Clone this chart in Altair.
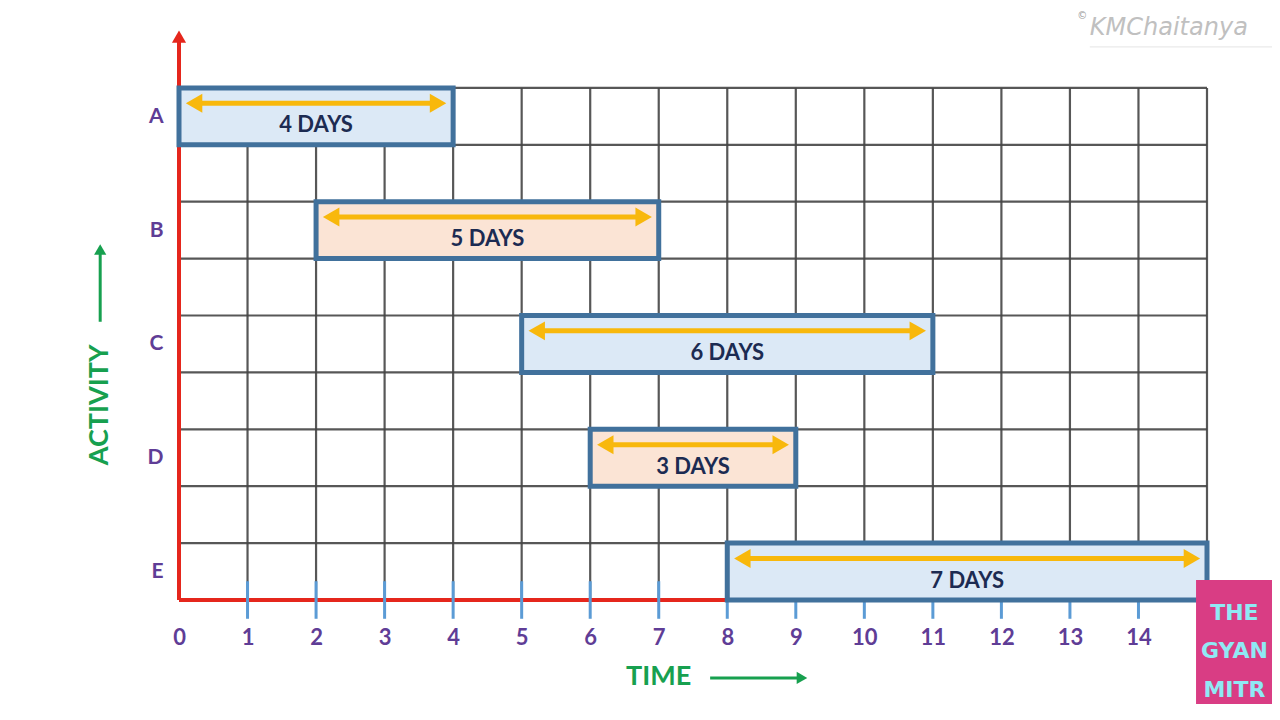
import altair as alt
import pandas as pd

# ---------------- data ----------------
activities = ["A", "B", "C", "D", "E"]
start_day = [0, 2, 5, 6, 8]
duration_days = [4, 5, 6, 3, 7]
box_fill = ["#dce9f6", "#fbe4d5", "#dce9f6", "#fbe4d5", "#dce9f6"]
band_bottom = [8, 6, 4, 2, 0]          # grid band that each activity occupies
day_labels = list(range(0, 15))        # 0 .. 14 printed under the axis
grid_days = list(range(1, 16))         # vertical grid lines
grid_levels = list(range(1, 10))       # horizontal grid lines
tick_days = list(range(1, 16))         # blue tick marks on the time axis

X_MAX = 15
Y_GRID_TOP = 9
Y_MAX = 10

PURPLE = "#5f3d96"
NAVY = "#1c2b52"
ORANGE = "#f8b80c"
RED = "#e5261c"
GREEN = "#17a04f"
BOX_STROKE = "#41719c"
GRID = "#454545"
FONT = "Lato"

tasks = pd.DataFrame({
    "activity": activities,
    "start": start_day,
    "dur": duration_days,
    "fill": box_fill,
    "row": band_bottom,
})
tasks["end"] = tasks["start"] + tasks["dur"]
tasks["top"] = tasks["row"] + 1
tasks["center"] = (tasks["start"] + tasks["end"]) / 2
tasks["label"] = tasks["dur"].astype(str) + " DAYS"
tasks["arrow_y"] = tasks["row"] + 0.73
tasks["text_y"] = tasks["row"] + 0.34
tasks["head_l"] = tasks["start"] + 0.22
tasks["head_r"] = tasks["end"] - 0.22

xs = alt.Scale(domain=[0, X_MAX], nice=False, zero=False)
ys = alt.Scale(domain=[0, Y_MAX], nice=False, zero=False)

label_expr = " : ".join(
    f"datum.value == {r + 0.5} ? '{a}'" for a, r in zip(activities, band_bottom)
) + " : ''"

x_axis = alt.Axis(values=day_labels, labelColor=PURPLE, labelFont=FONT, labelFontSize=22,
                  labelFontWeight="bold", labelPadding=27, ticks=False, tickSize=0,
                  domain=False, grid=False, title=None, labelFlush=False, labelOverlap=False)
y_axis = alt.Axis(values=[r + 0.5 for r in band_bottom], labelExpr=label_expr,
                  labelColor=PURPLE, labelFont=FONT, labelFontSize=21, labelFontWeight="bold",
                  labelPadding=16, ticks=False, tickSize=0, domain=False, grid=False,
                  title=None, labelFlush=False, labelOverlap=False)


def X(*a, **k):
    return alt.X(*a, scale=xs, axis=x_axis, **k)


def Y(*a, **k):
    return alt.Y(*a, scale=ys, axis=y_axis, **k)


one = alt.Data(values=[{"k": 0}])

# grid
vgrid = alt.Chart(pd.DataFrame({"x": grid_days})).mark_rule(color=GRID, strokeWidth=2.2, opacity=0.9).encode(
    x=X("x:Q"), y=Y(datum=0), y2=alt.Y2(datum=Y_GRID_TOP))
hgrid = alt.Chart(pd.DataFrame({"y": grid_levels})).mark_rule(color=GRID, strokeWidth=2.2, opacity=0.9).encode(
    y=Y("y:Q"), x=X(datum=0), x2=alt.X2(datum=X_MAX))

# red axis lines + arrow
x_line = alt.Chart(one).mark_rule(color=RED, strokeWidth=4).encode(
    x=X(datum=0), x2=alt.X2(datum=X_MAX), y=Y(datum=0))
y_line = alt.Chart(one).mark_rule(color=RED, strokeWidth=4).encode(
    x=X(datum=0), y=Y(datum=0), y2=alt.Y2(datum=9.85))
y_head = alt.Chart(one).mark_point(shape="triangle-up", filled=True, color=RED, size=200, opacity=1).encode(
    x=X(datum=0), y=Y(datum=9.9))

# blue ticks crossing the time axis
ticks = alt.Chart(pd.DataFrame({"x": tick_days})).mark_rule(color="#5b9bd5", strokeWidth=3).encode(
    x=X("x:Q"), y=Y(datum=-0.33), y2=alt.Y2(datum=0.33))

# activity boxes
boxes = alt.Chart(tasks).mark_rect(stroke=BOX_STROKE, strokeWidth=5).encode(
    x=X("start:Q"), x2="end:Q", y=Y("row:Q"), y2="top:Q",
    fill=alt.Fill("fill:N", scale=None))

arrow_line = alt.Chart(tasks).mark_rule(color=ORANGE, strokeWidth=5).encode(
    x=X("head_l:Q"), x2="head_r:Q", y=Y("arrow_y:Q"))
head_left = alt.Chart(tasks).mark_point(shape="triangle-left", filled=True, color=ORANGE, size=360, opacity=1).encode(
    x=X("head_l:Q"), y=Y("arrow_y:Q"))
head_right = alt.Chart(tasks).mark_point(shape="triangle-right", filled=True, color=ORANGE, size=360, opacity=1).encode(
    x=X("head_r:Q"), y=Y("arrow_y:Q"))

box_text = alt.Chart(tasks).mark_text(font=FONT, fontSize=22, fontWeight="bold", color=NAVY,
                                      baseline="middle", align="center").encode(
    x=X("center:Q"), y=Y("text_y:Q"), text="label:N")

# axis titles with green arrows
act_title = alt.Chart(one).mark_text(text="ACTIVITY", font=FONT, fontSize=27, fontWeight="bold",
                                     color=GREEN, angle=270, baseline="middle", align="center").encode(
    x=X(datum=-1.15), y=Y(datum=3.43))
act_line = alt.Chart(one).mark_rule(color=GREEN, strokeWidth=3).encode(
    x=X(datum=-1.15), y=Y(datum=4.89), y2=alt.Y2(datum=6.1))
act_head = alt.Chart(one).mark_point(shape="triangle-up", filled=True, color=GREEN, size=150, opacity=1).encode(
    x=X(datum=-1.15), y=Y(datum=6.16))

time_title = alt.Chart(one).mark_text(text="TIME", font=FONT, fontSize=27, fontWeight="bold",
                                      color=GREEN, baseline="middle", align="center").encode(
    x=X(datum=7.0), y=Y(datum=-1.35))
time_line = alt.Chart(one).mark_rule(color=GREEN, strokeWidth=3).encode(
    x=X(datum=7.75), x2=alt.X2(datum=9.05), y=Y(datum=-1.37))
time_head = alt.Chart(one).mark_point(shape="triangle-right", filled=True, color=GREEN, size=150, opacity=1).encode(
    x=X(datum=9.09), y=Y(datum=-1.37))

# watermark
wm_c = alt.Chart(one).mark_text(text="©", font="DejaVu Sans", fontSize=10, color="#9a9a9a").encode(
    x=X(datum=13.18), y=Y(datum=10.27))
wm = alt.Chart(one).mark_text(text="KMChaitanya", font="DejaVu Sans", fontSize=24, fontStyle="italic",
                              color="#c0c0c0", align="left", baseline="middle").encode(
    x=X(datum=13.29), y=Y(datum=10.05))
wm_line = alt.Chart(one).mark_rule(color="#e4e4e4", strokeWidth=1).encode(
    x=X(datum=13.29), x2=alt.X2(datum=15.95), y=Y(datum=9.72))

# logo block
logo_words = ["THE", "GYAN", "MITR"]
logo_y = [-0.22, -0.9, -1.58]
logo_rect = alt.Chart(one).mark_rect(color="#d93d84").encode(
    x=X(datum=14.84), x2=alt.X2(datum=15.95), y=Y(datum=0.35), y2=alt.Y2(datum=-1.95))
logo_text = alt.Chart(pd.DataFrame({"w": logo_words, "y": logo_y})).mark_text(
    font="DejaVu Sans", fontSize=22, fontWeight="bold", color="#8fe9f4",
    baseline="middle", align="center").encode(
    x=X(datum=15.40), y=Y("y:Q"), text="w:N")

chart = alt.layer(
    vgrid, hgrid, x_line, ticks, y_line, y_head,
    boxes, arrow_line, head_left, head_right, box_text,
    act_title, act_line, act_head, time_title, time_line, time_head,
    wm_c, wm, wm_line, logo_rect, logo_text,
).properties(
    width=1028, height=569,
    autosize=alt.AutoSizeParams(type="none"),
    padding={"left": 171, "top": 23, "right": 65, "bottom": 104},
    background="white",
).configure_view(stroke=None)

chart.save("out.html", embed_options={"renderer": "svg", "actions": False})
